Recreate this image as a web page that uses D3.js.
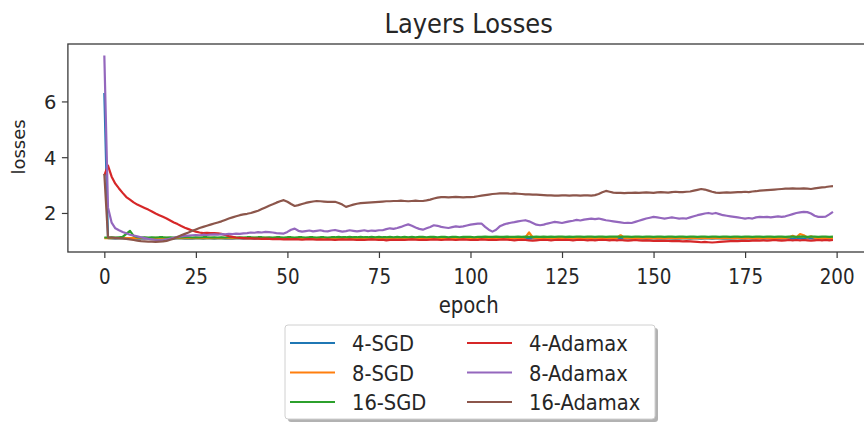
<!DOCTYPE html>
<html>
<head>
<meta charset="utf-8">
<script src="https://cdn.jsdelivr.net/npm/d3@7"></script>
<style>
  body { margin: 0; background: #fff; }
  text { font-family: "DejaVu Sans", sans-serif; fill: #262626; }
</style>
</head>
<body>
<script>
// series names and colours (matplotlib tab10 order)
var names = ["4-SGD", "8-SGD", "16-SGD", "4-Adamax", "8-Adamax", "16-Adamax"];
var colors = ["#1f77b4", "#ff7f0e", "#2ca02c", "#d62728", "#9467bd", "#8c564b"];
var xTicks = [0, 25, 50, 75, 100, 125, 150, 175, 200];
var yTicks = [2, 4, 6];

// losses per epoch
var sgd4 = [
6.30,1.10,1.09,1.08,1.09,1.09,1.08,1.09,1.09,1.08,
1.09,1.08,1.09,1.09,1.08,1.09,1.08,1.09,1.09,1.08,
1.09,1.09,1.08,1.09,1.08,1.09,1.09,1.08,1.09,1.09,
1.08,1.09,1.09,1.08,1.09,1.08,1.09,1.09,1.08,1.09,
1.09,1.08,1.09,1.09,1.08,1.09,1.09,1.08,1.09,1.08,
1.09,1.09,1.08,1.09,1.09,1.08,1.09,1.08,1.09,1.09,
1.08,1.09,1.09,1.08,1.09,1.09,1.08,1.09,1.09,1.08,
1.09,1.08,1.09,1.09,1.08,1.09,1.09,1.08,1.09,1.09,
1.08,1.09,1.09,1.08,1.09,1.08,1.09,1.09,1.08,1.09,
1.09,1.08,1.09,1.09,1.08,1.09,1.09,1.08,1.09,1.08,
1.09,1.09,1.08,1.09,1.09,1.08,1.09,1.08,1.09,1.09,
1.08,1.09,1.09,1.08,1.09,1.09,1.08,1.09,1.09,1.08,
1.09,1.08,1.09,1.09,1.08,1.09,1.09,1.08,1.09,1.09,
1.08,1.09,1.09,1.08,1.09,1.08,1.09,1.09,1.08,1.09,
1.09,1.08,1.09,1.09,1.08,1.09,1.09,1.08,1.09,1.08,
1.09,1.09,1.08,1.09,1.09,1.08,1.09,1.08,1.09,1.09,
1.08,1.09,1.09,1.08,1.09,1.09,1.08,1.09,1.09,1.08,
1.09,1.08,1.09,1.09,1.08,1.09,1.09,1.08,1.09,1.09,
1.08,1.09,1.09,1.08,1.09,1.08,1.09,1.09,1.08,1.09,
1.09,1.08,1.09,1.09,1.08,1.09,1.09,1.08,1.09,1.08];
var sgd8 = [
1.10,1.10,1.11,1.10,1.10,1.11,1.10,1.10,1.11,1.10,
1.10,1.11,1.10,1.10,1.11,1.10,1.10,1.11,1.10,1.10,
1.11,1.10,1.10,1.11,1.10,1.10,1.11,1.10,1.10,1.11,
1.10,1.10,1.11,1.10,1.10,1.11,1.10,1.10,1.11,1.10,
1.10,1.11,1.10,1.10,1.11,1.10,1.10,1.11,1.10,1.10,
1.11,1.10,1.10,1.11,1.10,1.10,1.11,1.10,1.10,1.11,
1.10,1.10,1.11,1.10,1.10,1.11,1.10,1.10,1.11,1.10,
1.10,1.11,1.10,1.10,1.11,1.10,1.10,1.11,1.10,1.10,
1.11,1.10,1.10,1.11,1.10,1.10,1.11,1.10,1.10,1.11,
1.10,1.10,1.11,1.10,1.10,1.11,1.10,1.10,1.11,1.10,
1.10,1.11,1.10,1.10,1.11,1.10,1.10,1.11,1.10,1.10,
1.11,1.10,1.10,1.11,1.10,1.12,1.30,1.12,1.10,1.11,
1.10,1.10,1.11,1.10,1.10,1.11,1.10,1.10,1.11,1.10,
1.10,1.11,1.10,1.10,1.11,1.10,1.10,1.11,1.10,1.10,
1.11,1.20,1.11,1.10,1.11,1.10,1.10,1.11,1.10,1.10,
1.11,1.10,1.10,1.11,1.10,1.10,1.11,1.10,1.10,1.11,
1.10,1.10,1.11,1.10,1.10,1.11,1.10,1.10,1.11,1.10,
1.10,1.11,1.10,1.10,1.11,1.10,1.10,1.11,1.10,1.10,
1.11,1.10,1.10,1.11,1.10,1.10,1.11,1.12,1.18,1.13,
1.24,1.20,1.12,1.16,1.11,1.10,1.11,1.10,1.10,1.11];
var sgd16 = [
1.12,1.12,1.13,1.12,1.13,1.14,1.25,1.36,1.18,1.13,
1.12,1.13,1.12,1.13,1.12,1.13,1.13,1.12,1.13,1.12,
1.13,1.12,1.13,1.13,1.12,1.13,1.12,1.13,1.13,1.12,
1.13,1.12,1.13,1.12,1.13,1.13,1.12,1.13,1.12,1.13,
1.13,1.12,1.13,1.13,1.12,1.13,1.12,1.13,1.13,1.12,
1.13,1.13,1.12,1.13,1.13,1.12,1.13,1.13,1.12,1.13,
1.13,1.12,1.13,1.13,1.14,1.13,1.13,1.14,1.13,1.13,
1.14,1.13,1.13,1.14,1.13,1.14,1.13,1.13,1.14,1.13,
1.14,1.13,1.14,1.13,1.14,1.13,1.14,1.14,1.13,1.14,
1.14,1.13,1.14,1.14,1.13,1.14,1.14,1.13,1.14,1.14,
1.14,1.13,1.14,1.14,1.15,1.14,1.14,1.15,1.14,1.14,
1.15,1.14,1.14,1.15,1.14,1.15,1.14,1.14,1.15,1.14,
1.15,1.14,1.15,1.14,1.15,1.15,1.14,1.15,1.14,1.15,
1.15,1.14,1.15,1.15,1.14,1.15,1.15,1.14,1.15,1.15,
1.15,1.14,1.15,1.15,1.14,1.15,1.15,1.14,1.15,1.15,
1.14,1.15,1.15,1.14,1.15,1.15,1.14,1.15,1.15,1.14,
1.15,1.15,1.14,1.15,1.15,1.14,1.15,1.15,1.14,1.15,
1.15,1.14,1.15,1.15,1.14,1.15,1.15,1.14,1.15,1.15,
1.14,1.15,1.15,1.14,1.15,1.15,1.14,1.15,1.15,1.14,
1.15,1.15,1.14,1.15,1.15,1.14,1.15,1.15,1.14,1.15];
var adamax4 = [
3.35,3.70,3.30,3.05,2.88,2.72,2.57,2.48,2.38,2.30,
2.24,2.18,2.12,2.05,1.98,1.92,1.86,1.80,1.73,1.66,
1.60,1.53,1.47,1.42,1.37,1.33,1.30,1.28,1.29,1.28,
1.28,1.27,1.25,1.21,1.17,1.14,1.12,1.11,1.10,1.09,
1.09,1.08,1.08,1.07,1.08,1.07,1.06,1.07,1.06,1.05,
1.06,1.05,1.06,1.05,1.04,1.05,1.06,1.05,1.04,1.05,
1.04,1.05,1.04,1.03,1.04,1.05,1.04,1.05,1.04,1.03,
1.04,1.03,1.04,1.05,1.04,1.03,1.04,1.02,1.03,1.04,
1.03,1.04,1.03,1.04,1.05,1.04,1.03,1.04,1.03,1.04,
1.05,1.04,1.03,1.04,1.05,1.04,1.03,1.04,1.05,1.04,
1.03,1.04,1.03,1.05,1.04,1.03,1.04,1.03,1.04,1.05,
1.04,1.03,1.02,1.03,1.04,1.03,1.02,1.01,1.02,1.03,
1.04,1.03,1.02,1.03,1.04,1.03,1.04,1.03,1.02,1.03,
1.04,1.03,1.02,1.03,1.02,1.03,1.04,1.03,1.02,1.03,
1.02,1.03,1.02,1.01,1.02,1.03,1.02,1.01,1.02,1.01,
1.00,1.01,1.00,1.01,1.00,0.99,1.00,0.99,0.98,0.99,
0.98,0.97,0.96,0.95,0.96,0.95,0.94,0.95,0.96,0.97,
0.98,0.99,1.00,0.99,1.00,1.01,1.00,1.01,1.02,1.01,
1.02,1.01,1.02,1.03,1.02,1.01,1.02,1.03,1.02,1.03,
1.02,1.03,1.02,1.01,1.02,1.03,1.02,1.03,1.02,1.03];
var adamax8 = [
7.65,2.20,1.65,1.45,1.38,1.32,1.27,1.22,1.19,1.16,
1.13,1.10,1.07,1.05,1.03,1.02,1.03,1.05,1.08,1.11,
1.14,1.16,1.18,1.19,1.20,1.21,1.20,1.22,1.21,1.22,
1.23,1.22,1.24,1.23,1.25,1.24,1.26,1.25,1.27,1.28,
1.30,1.29,1.31,1.30,1.32,1.31,1.30,1.28,1.27,1.26,
1.32,1.40,1.44,1.36,1.33,1.35,1.37,1.34,1.36,1.38,
1.35,1.34,1.37,1.39,1.36,1.33,1.35,1.38,1.36,1.34,
1.36,1.38,1.35,1.37,1.36,1.38,1.38,1.42,1.45,1.43,
1.46,1.50,1.55,1.59,1.54,1.48,1.43,1.40,1.45,1.50,
1.56,1.54,1.50,1.48,1.46,1.49,1.52,1.50,1.52,1.55,
1.58,1.60,1.62,1.62,1.50,1.40,1.33,1.40,1.52,1.58,
1.62,1.65,1.67,1.70,1.72,1.74,1.70,1.64,1.58,1.56,
1.58,1.62,1.65,1.68,1.66,1.64,1.67,1.70,1.72,1.75,
1.73,1.76,1.78,1.80,1.78,1.80,1.77,1.74,1.72,1.70,
1.68,1.66,1.64,1.65,1.64,1.68,1.72,1.76,1.80,1.83,
1.86,1.84,1.82,1.80,1.82,1.84,1.82,1.80,1.81,1.80,
1.84,1.88,1.92,1.95,1.98,2.00,1.97,2.00,1.96,1.92,
1.90,1.88,1.86,1.84,1.82,1.80,1.82,1.80,1.84,1.86,
1.85,1.86,1.84,1.86,1.88,1.86,1.88,1.92,1.96,2.00,
2.02,2.04,2.03,1.98,1.90,1.86,1.86,1.87,1.95,2.04];
var adamax16 = [
3.40,1.12,1.12,1.11,1.10,1.09,1.07,1.05,1.03,1.01,
0.99,0.98,0.97,0.97,0.96,0.97,0.98,1.00,1.04,1.08,
1.14,1.20,1.25,1.30,1.36,1.41,1.46,1.50,1.54,1.58,
1.62,1.66,1.70,1.75,1.80,1.84,1.88,1.92,1.95,1.97,
2.00,2.04,2.08,2.14,2.20,2.26,2.31,2.37,2.42,2.46,
2.40,2.32,2.25,2.28,2.32,2.36,2.39,2.41,2.43,2.42,
2.41,2.40,2.40,2.40,2.36,2.30,2.22,2.26,2.30,2.33,
2.35,2.36,2.37,2.38,2.39,2.40,2.41,2.42,2.42,2.43,
2.43,2.44,2.43,2.42,2.43,2.44,2.43,2.43,2.45,2.48,
2.52,2.55,2.57,2.57,2.56,2.57,2.58,2.57,2.56,2.57,
2.57,2.58,2.60,2.62,2.64,2.66,2.68,2.69,2.70,2.70,
2.70,2.69,2.70,2.69,2.68,2.67,2.67,2.66,2.66,2.65,
2.64,2.63,2.63,2.62,2.62,2.63,2.63,2.62,2.63,2.63,
2.62,2.63,2.63,2.62,2.64,2.68,2.74,2.79,2.76,2.73,
2.72,2.72,2.71,2.72,2.72,2.73,2.72,2.73,2.74,2.73,
2.72,2.74,2.75,2.74,2.73,2.75,2.76,2.75,2.75,2.76,
2.77,2.80,2.83,2.86,2.84,2.80,2.76,2.73,2.72,2.73,
2.74,2.73,2.74,2.75,2.75,2.76,2.75,2.77,2.78,2.80,
2.81,2.82,2.83,2.84,2.85,2.86,2.87,2.87,2.88,2.87,
2.87,2.88,2.87,2.86,2.88,2.90,2.92,2.93,2.95,2.96];

var series = [sgd4, sgd8, sgd16, adamax4, adamax8, adamax16];

var width = 864, height = 424;
var plotL = 67.9, plotR = 869.4, plotT = 44, plotB = 252;
var stretch = "scale(1,1.13)"; // text in the picture is a bit taller than wide

var svg = d3.select("body").append("svg")
    .attr("width", width)
    .attr("height", height)
    .style("background", "#fff");

var x = d3.scaleLinear().domain([-9.95, 208.95]).range([plotL, plotR]);
var y = d3.scaleLinear().domain([0.6, 8.06]).range([plotB, plotT]);

svg.append("clipPath").attr("id", "plot")
  .append("rect")
    .attr("x", plotL).attr("y", plotT)
    .attr("width", plotR - plotL).attr("height", plotB - plotT);

var line = d3.line()
    .x(function(d, i) { return x(i); })
    .y(function(d) { return y(d); });

svg.append("g")
    .attr("clip-path", "url(#plot)")
  .selectAll("path")
    .data(series)
  .enter().append("path")
    .attr("d", line)
    .attr("fill", "none")
    .attr("stroke", function(d, i) { return colors[i]; })
    .attr("stroke-width", 2.2)
    .attr("stroke-linejoin", "round");

// frame
svg.append("rect")
    .attr("x", plotL).attr("y", plotT)
    .attr("width", plotR - plotL).attr("height", plotB - plotT)
    .attr("fill", "none")
    .attr("stroke", "#3a3a3a")
    .attr("stroke-width", 1.3);

var xAxis = svg.append("g")
    .attr("transform", "translate(0," + plotB + ")")
    .call(d3.axisBottom(x).tickValues(xTicks).tickSize(6).tickSizeOuter(0));
xAxis.select(".domain").remove();
xAxis.selectAll("line").attr("stroke", "#3a3a3a").attr("stroke-width", 1.2);
xAxis.selectAll("text")
    .attr("y", 27.9).attr("dy", 0)
    .attr("transform", stretch)
    .style("font-size", "18.3px")
    .style("font-family", "DejaVu Sans")
    .attr("fill", "#262626");

var yAxis = svg.append("g")
    .attr("transform", "translate(" + plotL + ",0)")
    .call(d3.axisLeft(y).tickValues(yTicks).tickSize(6).tickSizeOuter(0));
yAxis.select(".domain").remove();
yAxis.selectAll("line").attr("stroke", "#3a3a3a").attr("stroke-width", 1.2);
yAxis.selectAll("text")
    .attr("x", -11.5).attr("dy", "0.36em")
    .style("font-size", "19.5px")
    .style("font-family", "DejaVu Sans")
    .attr("fill", "#262626");

function label(txt, px, py, size, anchor) {
  return svg.append("text")
      .attr("transform", "translate(" + px + "," + py + ") " + stretch)
      .attr("text-anchor", anchor || "middle")
      .style("font-size", size + "px")
      .text(txt);
}

label("Layers Losses", (plotL + plotR) / 2, 33, 24.2);
label("epoch", (plotL + plotR) / 2, 313, 19.7);

svg.append("text")
    .attr("transform", "translate(25,147) rotate(-90)")
    .attr("text-anchor", "middle")
    .style("font-size", "18px")
    .text("losses");

// legend, two columns of three
var lg = svg.append("g");
lg.append("rect")
    .attr("x", 288).attr("y", 328).attr("width", 370).attr("height", 94)
    .attr("rx", 3).attr("fill", "#000").attr("opacity", 0.3);
lg.append("rect")
    .attr("x", 285).attr("y", 325).attr("width", 370).attr("height", 94)
    .attr("rx", 3).attr("fill", "#fff").attr("stroke", "#d0d0d0").attr("stroke-width", 1);

var items = lg.selectAll("g.item")
    .data(names)
  .enter().append("g")
    .attr("class", "item")
    .attr("transform", function(d, i) {
      return "translate(" + (i < 3 ? 290 : 467) + "," + (343 + (i % 3) * 29.5) + ")";
    });
items.append("line")
    .attr("x1", 0).attr("x2", 45)
    .attr("stroke", function(d, i) { return colors[i]; })
    .attr("stroke-width", 2.2);
items.append("text")
    .attr("x", 62)
    .attr("transform", "translate(0,8) " + stretch)
    .style("font-size", "19.5px")
    .text(function(d) { return d; });
</script>
</body>
</html>
